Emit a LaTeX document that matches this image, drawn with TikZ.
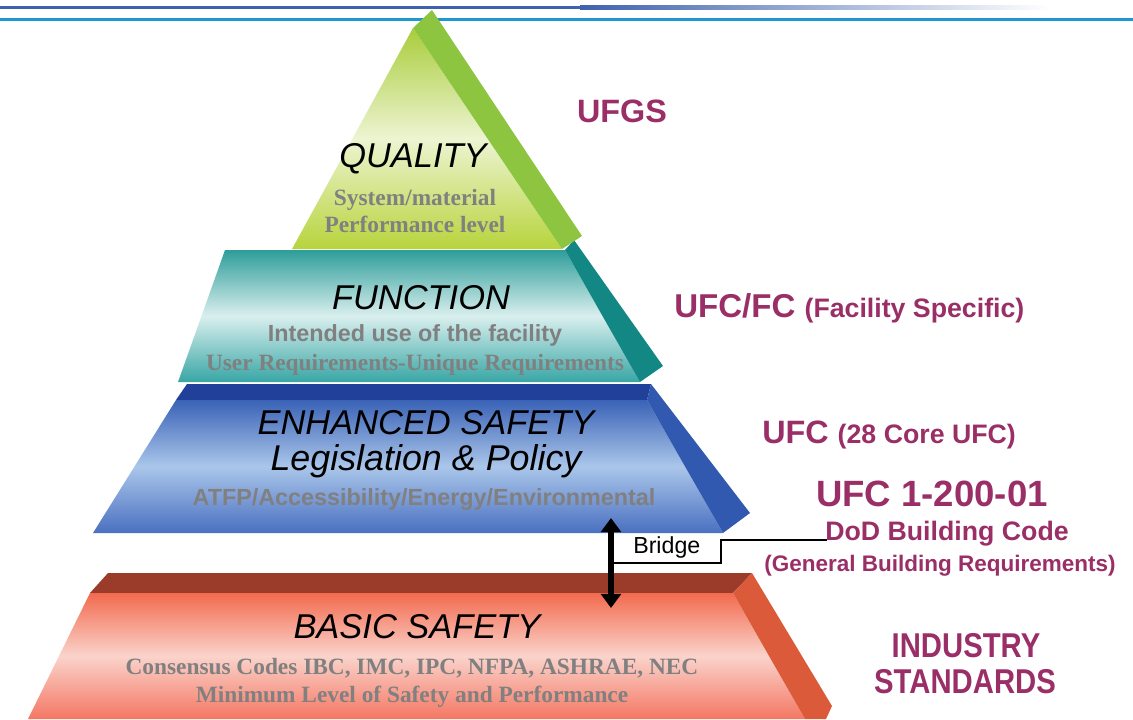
\documentclass[tikz,border=0pt]{standalone}
\usepackage{fontspec}
\setmainfont{Liberation Serif}
\setsansfont{Liberation Sans}
\newfontfamily\narrowsans[FakeStretch=0.85]{Liberation Sans}
\usepackage{tikz}
\usetikzlibrary{positioning}
\usetikzlibrary{arrows.meta}
\definecolor{codepurple}{HTML}{9A2E66}
\definecolor{notegray}{HTML}{808080}
\definecolor{rulemain}{HTML}{3F62AE}
\definecolor{rulecyan}{HTML}{1E98CE}
\definecolor{greenside}{HTML}{8DC540}
\definecolor{greentop}{HTML}{A9CD3A}
\definecolor{greenpale}{HTML}{EDF4D2}
\definecolor{greenbot}{HTML}{B7D43C}
\definecolor{tealside}{HTML}{138784}
\definecolor{tealtop}{HTML}{2E9D9A}
\definecolor{tealpale}{HTML}{D9EFEE}
\definecolor{tealbot}{HTML}{38A6A5}
\definecolor{bluecap}{HTML}{21409A}
\definecolor{blueside}{HTML}{3259B0}
\definecolor{bluetop}{HTML}{3A62B6}
\definecolor{bluepale}{HTML}{AAC6EA}
\definecolor{bluebot}{HTML}{4A70C0}
\definecolor{redcap}{HTML}{9B3B2A}
\definecolor{redside}{HTML}{DB5A3A}
\definecolor{redtop}{HTML}{F26A4E}
\definecolor{redpale}{HTML}{FAD3CB}
\definecolor{redbot}{HTML}{F47763}
\newcommand{\pxsize}[1]{\fontsize{#1}{#1}\selectfont}
\tikzset{>=latex}

\begin{document}
\begin{tikzpicture}[x=0.025cm, y=-0.025cm,
    tiername/.style={anchor=base, font=\sffamily\itshape\pxsize{24.5}},
    sansnote/.style={anchor=base, text=notegray, font=\sffamily\bfseries\pxsize{16.6}},
    serifnote/.style={anchor=base, text=notegray, font=\rmfamily\bfseries\pxsize{16.6}},
    codelabel/.style={text=codepurple, font=\sffamily\bfseries, inner sep=0pt}]

        \useasboundingbox (0,0) rectangle (1133,719);

        % Top rules
        \fill[rulemain] (0,5.5) rectangle (580,9);
        \shade[left color=rulemain, right color=white] (580,5.5) rectangle (1050,9);
        \fill[rulecyan] (0,17.5) rectangle (1133,21);

        % Basic safety (bottom tier)
        \fill[redcap] (108,573) -- (752,573) -- (733,593) -- (90,593) -- cycle;
        \shade[top color=redtop, bottom color=redbot, middle color=redpale]
            (90,593) -- (733,593) -- (805,719) -- (28,719) -- cycle;
        \fill[redside] (752,573) -- (832,706) -- (826,719) -- (805,719) -- (733,593) -- cycle;

        % Enhanced safety
        \fill[bluecap] (187,384) -- (651,384) -- (647,400) -- (176,400) -- cycle;
        \shade[top color=bluetop, bottom color=bluebot, middle color=bluepale]
            (176,400) -- (647,400) -- (723,533) -- (93,533) -- cycle;
        \fill[blueside] (651,384) -- (750,513) -- (723,533) -- (647,400) -- cycle;

        % Function
        \shade[top color=tealtop, bottom color=tealbot, middle color=tealpale]
            (225,250) -- (565,250) -- (640,382) -- (178,382) -- cycle;
        \fill[tealside] (565,250) -- (574,240) -- (663,366) -- (640,382) -- cycle;

        % Quality (apex)
        \shade[top color=greentop, bottom color=greenbot, middle color=greenpale]
            (413,28) -- (292,249) -- (562,249) -- cycle;
        \fill[greenside] (413,28) -- (432,10) -- (582,236) -- (562,249) -- cycle;

        % Tier texts
        \node[tiername] (quality) at (413,167) {QUALITY};
        \node[serifnote] (quality1) at (415,205) {System/material};
        \node[serifnote] (quality2) at (415,232) {Performance level};

        \node[tiername] (function) at (421,309) {FUNCTION};
        \node[sansnote] (function1) at (415,341) {Intended use of the facility};
        \node[serifnote] (function2) at (415,370) {User Requirements-Unique Requirements};

        \node[tiername] (enhanced) at (426,434) {ENHANCED SAFETY};
        \node[tiername, font=\sffamily\itshape\pxsize{25.5}] (policy) at (426,470) {Legislation \& Policy};
        \node[sansnote] (enhanced1) at (424,505) {ATFP/Accessibility/Energy/Environmental};

        \node[tiername] (basic) at (417,638) {BASIC SAFETY};
        \node[serifnote] (basic1) at (412,674) {Consensus Codes IBC, IMC, IPC, NFPA, ASHRAE, NEC};
        \node[serifnote] (basic2) at (412,702) {Minimum Level of Safety and Performance};

        % Code labels on the right
        \node[codelabel, anchor=base] (ufgs) at (622,122) {\pxsize{23}UFGS};
        \node[codelabel, anchor=base west] (ufcfc) at (674,317)
            {\pxsize{23.5}UFC/FC \pxsize{19}(Facility Specific)};
        \node[codelabel, anchor=base west] (ufc) at (762,443)
            {\pxsize{23}UFC \pxsize{19}(28 Core UFC)};
        \node[codelabel, anchor=base, font=\sffamily\bfseries\pxsize{26}] (ufc120001) at (932,506) {UFC 1-200-01};
        \node[codelabel, anchor=base, font=\sffamily\bfseries\pxsize{19}] (dod) at (947,540) {DoD Building Code};
        \node[codelabel, anchor=base, font=\sffamily\bfseries\pxsize{16}] (general) at (940,571) {(General Building Requirements)};
        \node[codelabel, anchor=base, font=\narrowsans\bfseries\pxsize{24.5}] (industry) at (966,657) {INDUSTRY};
        \node[codelabel, anchor=base, font=\narrowsans\bfseries\pxsize{24.5}] (standards) at (965,693) {STANDARDS};

        % Bridge between the safety tiers
        \coordinate (bridgetop) at (611,518);
        \coordinate (bridgebot) at (611,608);
        \coordinate (bridgejoin) at (611,563);
        \coordinate (dodend) at (827,540);
        \draw[line width=4.3pt, {Triangle[length=10pt,width=14pt]}-{Triangle[length=10pt,width=14pt]}]
            (bridgetop) -- (bridgebot);
        \draw[line width=1pt] (bridgejoin) -- (721,563) -- (721,540) -- (dodend);
        \node[anchor=base west, inner sep=0pt, font=\sffamily\pxsize{16.5}] (bridge) at (633,553) {Bridge};

    \end{tikzpicture}
\end{document}
